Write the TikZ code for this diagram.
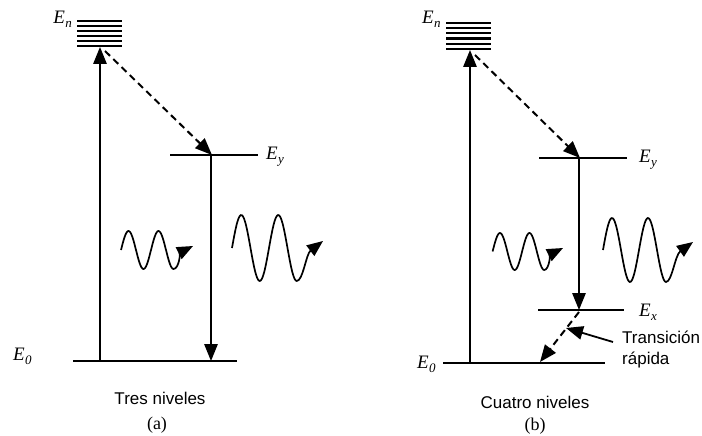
\documentclass[tikz,border=0pt]{standalone}
\usepackage{fontspec}
\setmainfont{Liberation Serif}
\setsansfont{Liberation Sans}
\usetikzlibrary{arrows.meta}
\newcommand\lev[1]{\textit{E}\kern0.3pt\raisebox{-0.45ex}{\fontsize{13}{13}\selectfont\textit{#1}}}
\begin{document}
\begin{tikzpicture}[x=1pt,y=-1pt,
 tip/.style={-{Triangle[length=17pt,width=13.5pt]}},
 wtip/.style={-{Triangle[length=16pt,width=13pt]}},
 vline/.style={line width=1.4pt},
 level/.style={line width=1.8pt},
 stack/.style={line width=2.2pt},
 dsh/.style={line width=2pt, dash pattern=on 7pt off 4.5pt},
 wave/.style={line width=1.7pt},
 lab/.style={font=\fontsize{19}{19}\selectfont, inner sep=0pt},
 capt/.style={font=\sffamily\fontsize{17}{21}\selectfont, inner sep=0pt},
 pcap/.style={font=\fontsize{18}{18}\selectfont, inner sep=0pt},
]
\useasboundingbox (0,0) rectangle (702,436);
\fill[white] (0,0) rectangle (702,436);

% ---------- panel (a) ----------
\foreach \y in {21,26,...,46} \draw[stack] (77,\y) -- (122,\y);
\node[lab, anchor=east] (ana) at (72,19) {\lev{n}};
\coordinate (ayl) at (170,155);
\coordinate (ayr) at (258,155);
\draw[level] (ayl) -- (ayr);
\node[lab, anchor=west] (aya) at (266,157) {\lev{y}};
\coordinate (a0l) at (73,361);
\coordinate (a0r) at (237,361);
\draw[level] (a0l) -- (a0r);
\node[lab, anchor=west] (a0a) at (13,356) {\lev{0}};

\coordinate (aup0) at (100,361);
\coordinate (aup1) at (100,47);
\draw[vline,tip] (aup0) -- (aup1);
\coordinate (ad0) at (105,51);
\coordinate (ad1) at (212,155);
\draw[dsh,tip] (ad0) -- (ad1);
\coordinate (adn0) at (211,155);
\coordinate (adn1) at (211,361);
\draw[vline,tip] (adn0) -- (adn1);

\draw[wave,wtip] plot[smooth, domain=0:1.75, samples=60, variable=\t]
  ({121+30*\t},{250-19*sin(360*\t)})
  .. controls (179,269) and (181,252) .. (193,246);
\draw[wave,wtip] plot[smooth, domain=0:1.75, samples=60, variable=\t]
  ({232+37*\t},{248-33*sin(360*\t)})
  .. controls (303,281) and (306,254) .. (323,241);

\node[capt] (acap) at (160,398) {Tres niveles};
\node[pcap] (alab) at (157,425) {(a)};

% ---------- panel (b) ----------
\foreach \y in {23,28.2,...,49} \draw[stack] (446,\y) -- (491,\y);
\node[lab, anchor=west] (bna) at (422,19) {\lev{n}};
\coordinate (byl) at (539,158);
\coordinate (byr) at (627,158);
\draw[level] (byl) -- (byr);
\node[lab, anchor=west] (bya) at (639,160) {\lev{y}};
\coordinate (bxl) at (538,310);
\coordinate (bxr) at (624,310);
\draw[level] (bxl) -- (bxr);
\node[lab, anchor=west] (bxa) at (639,312) {\lev{x}};
\coordinate (b0l) at (443,363);
\coordinate (b0r) at (605,363);
\draw[level] (b0l) -- (b0r);
\node[lab, anchor=west] (b0a) at (417,364) {\lev{0}};

\coordinate (bup0) at (470,363);
\coordinate (bup1) at (470,50);
\draw[vline,tip] (bup0) -- (bup1);
\coordinate (bd0) at (475,55);
\coordinate (bd1) at (580,158);
\draw[dsh,tip] (bd0) -- (bd1);
\coordinate (bdn0) at (579,158);
\coordinate (bdn1) at (579,310);
\draw[vline,tip] (bdn0) -- (bdn1);
\coordinate (bf0) at (579,312);
\coordinate (bf1) at (540,362);
\draw[dsh,tip] (bf0) -- (bf1);

\draw[wave,wtip] plot[smooth, domain=0:1.75, samples=60, variable=\t]
  ({492.6+29.5*\t},{251.5-18.5*sin(360*\t)})
  .. controls (549,270) and (551,254) .. (563,248);
\draw[wave,wtip] plot[smooth, domain=0:1.75, samples=60, variable=\t]
  ({603+36*\t},{250-32*sin(360*\t)})
  .. controls (672,282) and (675,255) .. (693,242);

\node[capt, anchor=west, align=left] (trans) at (622,350) {Transición\\rápida};
\coordinate (ts) at (613,342);
\coordinate (te) at (566,328);
\draw[line width=1.8pt,tip] (ts) -- (te);

\node[capt] (bcap) at (535,402) {Cuatro niveles};
\node[pcap] (blab) at (535,426) {(b)};
\end{tikzpicture}
\end{document}
